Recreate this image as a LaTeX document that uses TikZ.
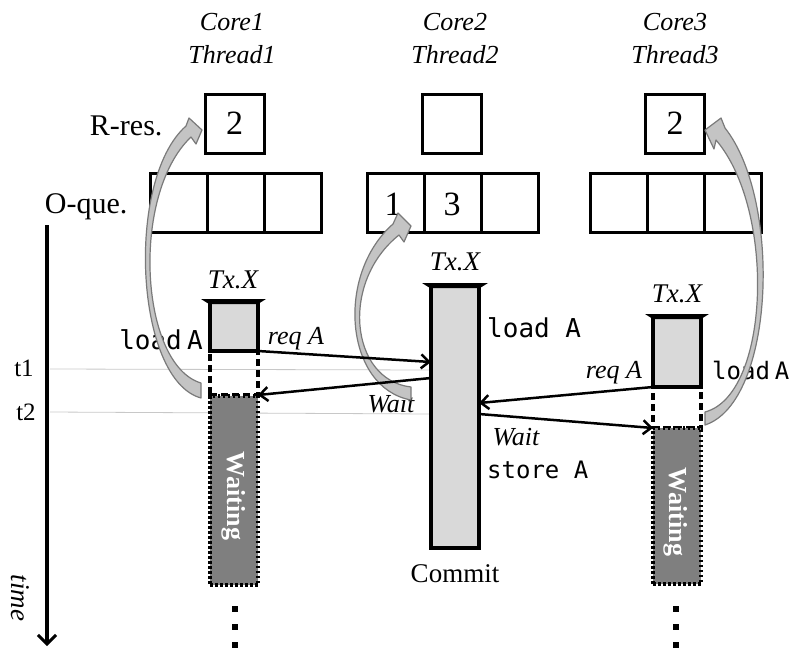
\documentclass[tikz,border=0pt]{standalone}
\usepackage{fontspec}
\setmainfont{Liberation Serif}
\newfontfamily\plainserif{Liberation Serif}
\setmonofont{DejaVu Sans Mono}
\usetikzlibrary{arrows.meta}
\definecolor{txgrey}{HTML}{D9D9D9}
\definecolor{waitgrey}{HTML}{7F7F7F}
\definecolor{arrfill}{HTML}{C4C4C4}
\definecolor{arrline}{HTML}{7A7A7A}
\definecolor{tline}{HTML}{C8C8C8}
\begin{document}
\begin{tikzpicture}[x=1pt,y=-1pt,
  cell/.style={draw, line width=3pt, inner sep=0pt, outer sep=0pt, minimum width=57pt, minimum height=59pt, font=\fontsize{34}{34}\selectfont},
  rres/.style={cell, minimum width=59pt},
  txbox/.style={draw, fill=txgrey, line width=4pt, inner sep=0pt, outer sep=0pt, minimum width=48pt},
  dashbox/.style={draw, line width=4pt, dash pattern=on 7pt off 4pt, inner sep=0pt, outer sep=0pt, minimum width=48pt},
  waitbox/.style={draw, fill=waitgrey, line width=3.5pt, dash pattern=on 2.5pt off 2.5pt, inner sep=0pt, outer sep=0pt, minimum width=48pt},
  waittext/.style={text=white, rotate=-90, font=\plainserif\bfseries\fontsize{26}{26}\selectfont},
  corelbl/.style={anchor=base, font=\itshape\fontsize{26}{26}\selectfont},
  rowlbl/.style={anchor=base east, font=\fontsize{30}{30}\selectfont},
  txlbl/.style={anchor=base, font=\itshape\fontsize{27}{27}\selectfont},
  itlbl/.style={anchor=base, font=\itshape\fontsize{26}{26}\selectfont},
  codelbl/.style={font=\ttfamily\fontsize{26}{26}\selectfont},
  conn/.style={line width=2.5pt, -{Straight Barb[length=8pt,width=14pt,line width=2.5pt]}},
  garrow/.style={fill=arrfill, draw=arrline, line width=1.2pt, line join=round},
  tickline/.style={draw=tline, line width=0.8pt},
  dot/.style={fill=black, inner sep=0pt, minimum width=5.5pt, minimum height=6.5pt}
]
\useasboundingbox (0,0) rectangle (796,648);

% time guide lines
\coordinate (t1a) at (50,369);
\coordinate (t1b) at (430,370);
\coordinate (t2a) at (50,412);
\coordinate (t2b) at (430,414);
\draw[tickline] (t1a) -- (t1b);
\draw[tickline] (t2a) -- (t2b);

% headers
\node[corelbl] (c1) at (232,30) {Core1};
\node[corelbl] (th1) at (232,63) {Thread1};
\node[corelbl] (c2) at (455,30) {Core2};
\node[corelbl] (th2) at (455,63) {Thread2};
\node[corelbl] (c3) at (675,30) {Core3};
\node[corelbl] (th3) at (675,63) {Thread3};

% row labels
\node[rowlbl] (rreslbl) at (166,135) {R-res.};
\node[rowlbl] (oquelbl) at (131,213) {O-que.};

% R-res boxes
\node[rres] (rr1) at (234.5,123.5) {2};
\node[rres] (rr2) at (452,123.5) {};
\node[rres] (rr3) at (675,123.5) {2};

% O-que boxes
\node[cell] (q11) at (178.5,202.5) {};
\node[cell] (q12) at (235.5,202.5) {};
\node[cell] (q13) at (292.5,202.5) {};
\node[cell] (q21) at (395.5,202.5) {};
\node[cell] (q22) at (452.5,202.5) {};
\node[cell] (q23) at (509.5,202.5) {};
\node[cell] (q31) at (618.5,202.5) {};
\node[cell] (q32) at (675.5,202.5) {};
\node[cell] (q33) at (732.5,202.5) {};
\node[anchor=base, font=\fontsize{34}{34}\selectfont] (n1) at (393,215) {1};
\node[anchor=base, font=\fontsize{34}{34}\selectfont] (n3) at (452,215) {3};

% time axis
\coordinate (ax0) at (47,225);
\coordinate (ax1) at (47,646);
\draw[line width=4pt, -{Straight Barb[length=9pt,width=18pt,line width=3pt]}] (ax0) -- (ax1);
\node[rotate=-90, font=\plainserif\itshape\fontsize{27}{27}\selectfont] (timelbl) at (20,598) {time};
\node[anchor=base, font=\fontsize{25}{25}\selectfont] (t1lbl) at (24,376) {t1};
\node[anchor=base, font=\fontsize{25}{25}\selectfont] (t2lbl) at (26,420) {t2};

% Thread 1 transaction
\node[dashbox, minimum height=44pt] (d1) at (234,373) {};
\node[waitbox, minimum height=189pt] (w1) at (234,490.5) {};
\node[txbox, minimum height=49pt] (tx1) at (234,326.5) {};
\fill (201,299) -- (266,299) -- (258,304) -- (209,304) -- cycle;
\node[waittext] (wt1) at (234,496) {Waiting};
\node[txlbl] (txl1) at (233,288) {Tx.X};
\node[dot] (p11) at (235,609) {};
\node[dot] (p12) at (235,627) {};
\node[dot] (p13) at (235,645) {};

% Thread 2 transaction
\node[txbox, minimum height=262pt] (tx2) at (455,417) {};
\fill (422,283) -- (488,283) -- (480,288) -- (430,288) -- cycle;
\node[txlbl] (txl2) at (455,270) {Tx.X};
\node[anchor=base, font=\fontsize{27}{27}\selectfont] (commit) at (455,582) {Commit};

% Thread 3 transaction
\node[dashbox, minimum height=41pt] (d3) at (677,407.5) {};
\node[waitbox, minimum height=156pt] (w3) at (677,506) {};
\node[txbox, minimum height=70pt] (tx3) at (677,352) {};
\fill (645,314) -- (709,314) -- (701,319) -- (653,319) -- cycle;
\node[waittext] (wt3) at (676,512) {Waiting};
\node[txlbl] (txl3) at (677,302) {Tx.X};
\node[dot] (p31) at (676,609) {};
\node[dot] (p32) at (676,627) {};
\node[dot] (p33) at (676,645) {};

% code labels
\node[codelbl, anchor=base east, inner sep=0pt] (ld1) at (203,349) {load\hspace{-0.4em} A};
\node[codelbl, anchor=base west, inner sep=0pt] (ld2) at (487,337) {load A};
\node[codelbl, anchor=base west, inner sep=0pt, font=\ttfamily\fontsize{24}{24}\selectfont] (st2) at (487,478) {store A};
\node[codelbl, anchor=base west, inner sep=0pt, font=\ttfamily\fontsize{24}{24}\selectfont] (ld3) at (712,379) {load\hspace{-0.4em} A};

% message labels
\node[itlbl] (rq1) at (296,344) {req A};
\node[itlbl] (rq3) at (614,378) {req A};
\node[itlbl] (wa2) at (391,412) {Wait};
\node[itlbl] (wa3) at (516,445) {Wait};

% curved grey arrows
\filldraw[garrow] (201,398) .. controls (135,380) and (125,180) .. (186,126)
  -- (189,118) -- (202,130) -- (196,144) -- (191,137)
  .. controls (130,195) and (140,365) .. (201,383) -- cycle;
\filldraw[garrow] (411,400) .. controls (345,388) and (335,275) .. (393,224)
  -- (398,213) -- (411,226) -- (404,242) -- (399,235)
  .. controls (340,282) and (350,380) .. (411,387) -- cycle;
\filldraw[garrow] (705,425) .. controls (775,402) and (782,200) .. (725,128)
  -- (721,118) -- (705,130) -- (714,149) -- (716,140)
  .. controls (776,210) and (770,395) .. (705,412) -- cycle;

% message arrows
\draw[conn] (tx1.south east) -- (tx2.west |- 0,362);
\draw[conn] (tx2.west |- 0,378) -- (d1.south east);
\draw[conn] (tx3.south west) -- (tx2.east |- 0,403);
\draw[conn] (tx2.east |- 0,414) -- (d3.south west);
\end{tikzpicture}
\end{document}
